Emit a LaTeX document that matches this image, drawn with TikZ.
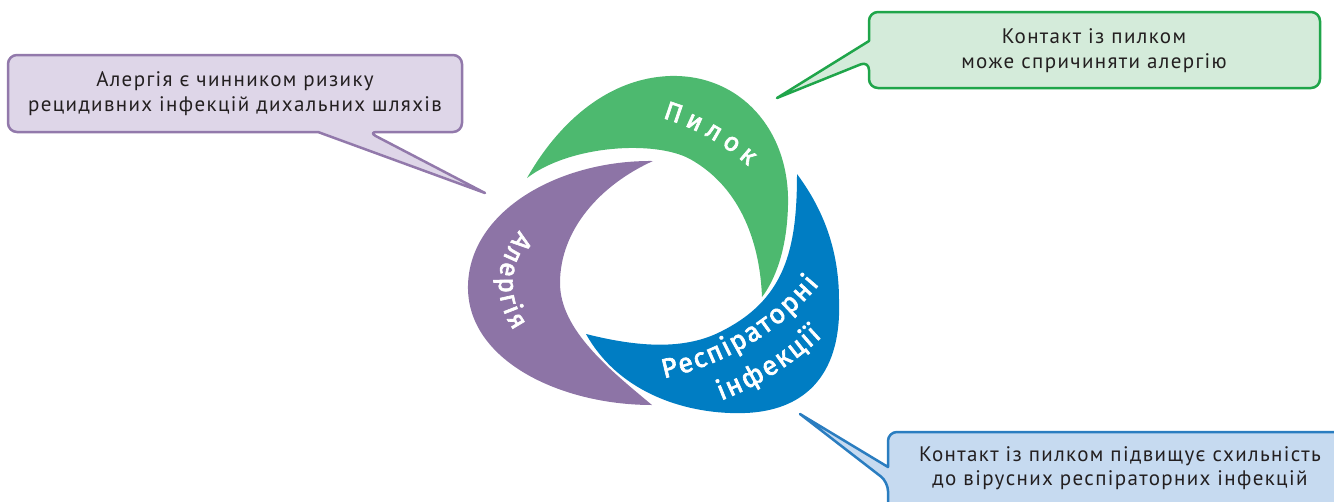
\documentclass[tikz,border=0pt]{standalone}
\usepackage{fontspec}
\setmainfont{PT Sans}[LetterSpace=6.5]
\newfontfamily\lbl{Fira Sans}[FakeBold=2.5]
\definecolor{cgreen}{HTML}{4DB96F}
\definecolor{cpurple}{HTML}{8D74A6}
\definecolor{cblue}{HTML}{007DC3}
\definecolor{pfill}{HTML}{DED6E8}
\definecolor{pline}{HTML}{9279AB}
\definecolor{gfill}{HTML}{D4EBDA}
\definecolor{gline}{HTML}{1FA54A}
\definecolor{bfill}{HTML}{C6DAF0}
\definecolor{bline}{HTML}{2A7DC0}
\definecolor{tgray}{HTML}{231F20}
\newdimen\archw
\newcommand\lblA{\lbl\fontsize{26}{26}\selectfont}
\newcommand\lblB{\lbl\fontsize{27}{27}\selectfont}
% #1 cx, #2 cy, #3 baseline radius, #4 angle of first letter centre, #5 angle of last letter centre,
% #6 letters, #7 result list macro, #8 font
\newcommand\preparc[8]{%
  \gdef\arctot{0}\gdef\arcn{0}%
  \foreach \ch [count=\i] in {#6}{%
    \setbox0=\hbox{#8\ch}\global\archw=\wd0
    \ifnum\i=1 \pgfmathsetmacro\tmp{\archw}\xdef\arcfirst{\tmp}\fi
    \pgfmathsetmacro\tmp{\archw}\xdef\arclast{\tmp}%
    \pgfmathsetmacro\tmp{\arctot+\archw}\xdef\arctot{\tmp}%
    \xdef\arcn{\i}%
  }%
  \pgfmathsetmacro\dir{ifthenelse(#5>#4,1,-1)}%
  \pgfmathsetmacro\tmp{(abs(#5-#4)*pi/180*#3-(\arctot-(\arcfirst+\arclast)/2))/(\arcn-1)}%
  \xdef\arcsp{\tmp}\xdef\arcdir{\dir}%
  \pgfmathsetmacro\tmp{-\arcfirst/2}\xdef\arcpos{\tmp}%
  \gdef#7{}%
  \foreach \ch in {#6}{%
    \setbox0=\hbox{#8\ch}\global\archw=\wd0
    \pgfmathsetmacro\ang{#4+\arcdir*(\arcpos+\archw/2)/(#3)*180/pi}%
    \pgfmathsetmacro\rot{\ang+\arcdir*90}%
    \pgfmathsetmacro\px{#1+#3*cos(\ang)}%
    \pgfmathsetmacro\py{#2+#3*sin(\ang)}%
    \xdef#7{#7\ifx#7\empty\else,\fi\ch/\px/\py/\rot}%
    \pgfmathsetmacro\tmp{\arcpos+\archw+\arcsp}%
    \xdef\arcpos{\tmp}%
  }%
}
\tikzset{
  bubble/.style={line width=2.5pt, rounded corners=9pt, line join=round},
  btext/.style={align=center, text=tgray, font=\fontsize{21}{24.5}\selectfont, inner sep=0pt},
  lettr/.style={text=white, inner sep=0pt, anchor=base},
}
\begin{document}
\preparc{600}{-330}{221}{71.3}{49.6}{П,и,л,о,к}{\pyllist}{\lblA}%
\preparc{578}{-284}{79}{143}{211}{А,л,е,р,г,і,я}{\alglist}{\lblA}%
\preparc{605.5}{-105.4}{279}{-76.3}{-40.7}{Р,е,с,п,і,р,а,т,о,р,н,і}{\resplist}{\lblB}%
\preparc{605.5}{-105.4}{317}{-67.9}{-47.6}{і,н,ф,е,к,ц,і,ї}{\inflist}{\lblB}%
\begin{tikzpicture}[x=1pt,y=1pt]
\useasboundingbox (0,0) rectangle (1334,-501);
\begin{scope}
\clip (0,0) rectangle (1334,-501);

% crescents
\fill[cgreen] (527,-178) .. controls (560,-120) and (610,-78) .. (670,-76)
  .. controls (740,-74) and (790,-130) .. (788,-205)
  .. controls (787,-250) and (775,-280) .. (762,-297)
  .. controls (760,-245) and (742,-188) .. (690,-159)
  .. controls (655,-140) and (570,-145) .. (527,-178) -- cycle;
\fill[cpurple] (653,-161) .. controls (560,-160) and (470,-210) .. (468,-285)
  .. controls (466,-360) and (560,-405) .. (652,-405)
  .. controls (610,-370) and (560,-330) .. (560,-283)
  .. controls (560,-230) and (600,-185) .. (653,-161) -- cycle;
\fill[cblue] (586,-334) .. controls (620,-395) and (690,-415) .. (745,-413)
  .. controls (800,-411) and (842,-380) .. (839,-300)
  .. controls (839,-245) and (820,-205) .. (797,-174)
  .. controls (797,-250) and (785,-300) .. (720,-332)
  .. controls (680,-352) and (630,-345) .. (586,-334) -- cycle;

% labels on the ring
\foreach \ch/\px/\py/\rot [count=\k] in \pyllist {\node[lettr, font=\lblA, rotate=\rot] (pyl-\k) at (\px,\py) {\ch};}
\foreach \ch/\px/\py/\rot [count=\k] in \alglist {\node[lettr, font=\lblA, rotate=\rot] (alg-\k) at (\px,\py) {\ch};}
\foreach \ch/\px/\py/\rot [count=\k] in \resplist {\node[lettr, font=\lblB, rotate=\rot] (resp-\k) at (\px,\py) {\ch};}
\foreach \ch/\px/\py/\rot [count=\k] in \inflist {\node[lettr, font=\lblB, rotate=\rot] (inf-\k) at (\px,\py) {\ch};}

% bubbles
\draw[bubble, draw=pline, fill=pfill] (8,-55) -- (462,-55) -- (462,-132) -- (368,-132) [sharp corners] -- (485,-193) -- (318,-132) [rounded corners=9pt] -- (8,-132) -- cycle;
\node[btext] (ptxt) at (235,-93.5) {Алергія є чинником ризику\\рецидивних інфекцій дихальних шляхів};

\draw[bubble, draw=gline, fill=gfill] (869,-12) -- (1320,-12) -- (1320,-88) -- (869,-88) -- (869,-61) [sharp corners] -- (777,-98) -- (869,-41) [rounded corners=9pt] -- cycle;
\node[btext] (gtxt) at (1094,-50.5) {Контакт із пилком\\може спричиняти алергію};

\draw[bubble, draw=bline, fill=bfill] (888,-432) -- (1360,-432) -- (1360,-530) -- (888,-530) -- (888,-482) [sharp corners] -- (800,-414) -- (888,-467) [rounded corners=9pt] -- cycle;
\node[btext] (btxt) at (1120,-468) {Контакт із пилком підвищує схильність\\до вірусних респіраторних інфекцій};
\end{scope}
\end{tikzpicture}
\end{document}
